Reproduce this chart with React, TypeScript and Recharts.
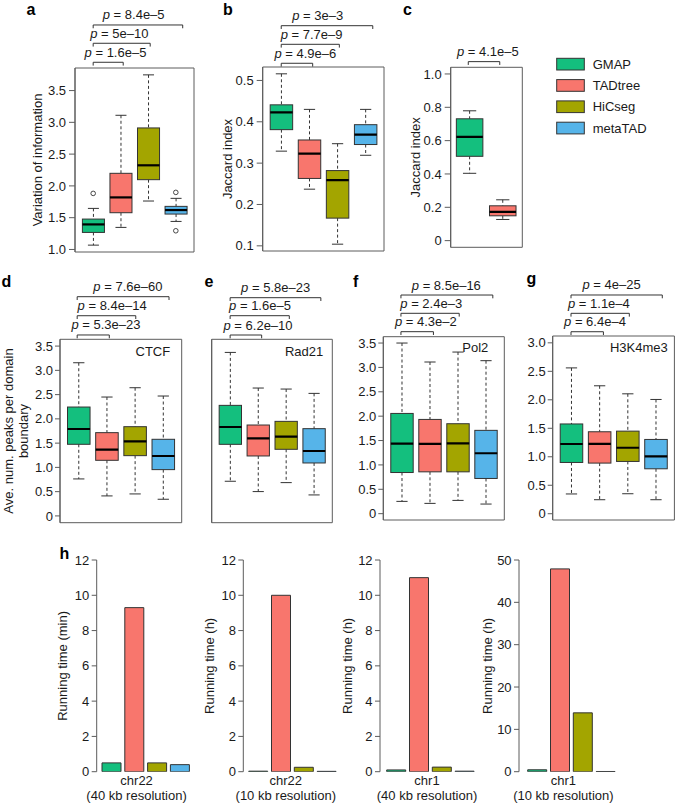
import React from 'react';
import {
  ComposedChart,
  BarChart,
  Bar,
  XAxis,
  YAxis,
  ReferenceArea,
  ReferenceLine,
  ReferenceDot,
  Cell,
} from 'recharts';

// ---------------- data ----------------
const methods = ['GMAP', 'TADtree', 'HiCseg', 'metaTAD'];
const methodColors = ['#14BF7E', '#F8766D', '#A3A500', '#56B4E9'];

// box stats: [lower whisker, Q1, median, Q3, upper whisker]
const viStats = [
  [1.068, 1.268, 1.394, 1.478, 1.646],
  [1.347, 1.578, 1.819, 2.198, 3.111],
  [1.762, 2.098, 2.324, 2.912, 3.747],
  [1.441, 1.557, 1.62, 1.678, 1.804],
];
const viOutliers = [[1.882], [], [], [1.898, 1.294]];

const jaccardStats = [
  [0.329, 0.381, 0.423, 0.441, 0.516],
  [0.237, 0.263, 0.323, 0.356, 0.43],
  [0.104, 0.167, 0.259, 0.282, 0.347],
  [0.319, 0.345, 0.369, 0.393, 0.43],
];
const jaccardPairStats = [
  [0.404, 0.506, 0.622, 0.731, 0.779],
  [0.127, 0.149, 0.173, 0.209, 0.245],
];
const ctcfStats = [
  [0.762, 1.476, 1.791, 2.244, 3.157],
  [0.412, 1.146, 1.366, 1.716, 2.45],
  [0.453, 1.242, 1.537, 1.839, 2.642],
  [0.343, 0.954, 1.235, 1.579, 2.471],
];
const rad21Stats = [
  [0.816, 1.686, 2.094, 2.604, 3.851],
  [0.573, 1.412, 1.827, 2.141, 3.012],
  [0.784, 1.569, 1.867, 2.227, 2.988],
  [0.494, 1.247, 1.529, 2.055, 2.886],
];
const pol2Stats = [
  [0.252, 0.844, 1.436, 2.056, 3.5],
  [0.211, 0.858, 1.43, 1.933, 3.111],
  [0.272, 0.858, 1.443, 1.845, 3.315],
  [0.197, 0.722, 1.239, 1.709, 3.138],
];
const h3k4me3Stats = [
  [0.347, 0.9, 1.224, 1.576, 2.56],
  [0.246, 0.889, 1.228, 1.439, 2.246],
  [0.351, 0.918, 1.158, 1.45, 2.105],
  [0.246, 0.789, 1.006, 1.304, 2.006],
];

// p-value brackets (x in group units, y in data units)
const viBrackets = [
  { from: 1, to: 2.09, y: 3.945, labelX: 1.81, p: '1.6e\u20135' },
  { from: 1, to: 3.07, y: 4.244, labelX: 1.95, p: '5e\u201310' },
  { from: 1, to: 4.25, y: 4.532, labelX: 2.47, p: '8.4e\u20135' },
];
const jaccardBrackets = [
  { from: 1, to: 2.12, y: 0.5415, labelX: 1.86, p: '4.9e\u20136' },
  { from: 1, to: 3.07, y: 0.5874, labelX: 2.08, p: '7.7e\u20139' },
  { from: 1, to: 4.26, y: 0.6324, labelX: 2.3, p: '3e\u20133' },
];
const jaccardPairBrackets = [{ from: 0.95, to: 1.9, y: 1.074, labelX: 1.54, p: '4.1e\u20135' }];
const ctcfBrackets = [
  { from: 0.95, to: 2.09, y: 3.729, labelX: 1.97, p: '5.3e\u201323' },
  { from: 0.95, to: 3.03, y: 4.126, labelX: 2.19, p: '8.4e\u201314' },
  { from: 0.95, to: 4.21, y: 4.518, labelX: 2.75, p: '7.6e\u201360' },
];
const rad21Brackets = [
  { from: 1, to: 2.13, y: 4.261, labelX: 2.0, p: '6.2e\u201310' },
  { from: 1, to: 3.12, y: 4.716, labelX: 2.07, p: '1.6e\u20135' },
  { from: 1, to: 4.25, y: 5.14, labelX: 2.63, p: '5.8e\u201323' },
];
const pol2Brackets = [
  { from: 0.97, to: 2.13, y: 3.733, labelX: 1.86, p: '4.3e\u20132' },
  { from: 0.97, to: 3.05, y: 4.11, labelX: 2.05, p: '2.4e\u20133' },
  { from: 0.97, to: 4.25, y: 4.485, labelX: 2.59, p: '8.5e\u201316' },
];
const h3k4me3Brackets = [
  { from: 0.99, to: 2.14, y: 3.195, labelX: 1.84, p: '6.4e\u20134' },
  { from: 0.99, to: 3.06, y: 3.518, labelX: 1.98, p: '1.1e\u20134' },
  { from: 0.99, to: 4.23, y: 3.84, labelX: 2.43, p: '4e\u201325' },
];

// tick values
const viTicks = [1.0, 1.5, 2.0, 2.5, 3.0, 3.5];
const jaccardTicks = [0.1, 0.2, 0.3, 0.4, 0.5];
const jaccardPairTicks = [0, 0.2, 0.4, 0.6, 0.8, 1.0];
const peakTicks = [0, 0.5, 1.0, 1.5, 2.0, 2.5, 3.0, 3.5];
const rad21Ticks = [0, 1, 2, 3, 4];
const h3k4me3Ticks = [0, 0.5, 1.0, 1.5, 2.0, 2.5, 3.0];
const hourTicks = [0, 2, 4, 6, 8, 10, 12];
const longHourTicks = [0, 10, 20, 30, 40, 50];

// running times
const runChr22At40kb = [0.5, 9.3, 0.5, 0.4];
const runChr22At10kb = [0.03, 10.0, 0.25, 0.02];
const runChr1At40kb = [0.1, 11.0, 0.26, 0.03];
const runChr1At10kb = [0.45, 47.9, 13.9, 0.05];

// ---------------- styles ----------------
const FONT = '"Liberation Sans", Arial, Helvetica, sans-serif';
const AXIS = '#5c5c5c';
const INK = '#1a1a1a';
const OUTLINE = '#333333';

const fmt1 = (v: number) => (v === 0 ? '0' : v.toFixed(1));

type Geo = { left: number; top: number; width: number; height: number; pl: number; pt: number; pr: number; pb: number };
type Bracket = { from: number; to: number; y: number; labelX: number; p: string };

function BoxShape(props: any) {
  const { x, y, width, height, payload } = props;
  if (!payload || x == null || y == null) return null;
  const top = Math.min(y, y + height);
  const bot = Math.max(y, y + height);
  const { lo, q1, med, q3, hi, color } = payload;
  const span = hi - lo || 1;
  const py = (v: number) => bot - ((v - lo) / span) * (bot - top);
  const cx = x + width / 2;
  const cap = width / 4;
  return (
    <g>
      <line x1={cx} x2={cx} y1={top} y2={py(q3)} stroke={OUTLINE} strokeDasharray="3 2.5" />
      <line x1={cx} x2={cx} y1={py(q1)} y2={bot} stroke={OUTLINE} strokeDasharray="3 2.5" />
      <line x1={cx - cap} x2={cx + cap} y1={top} y2={top} stroke={OUTLINE} />
      <line x1={cx - cap} x2={cx + cap} y1={bot} y2={bot} stroke={OUTLINE} />
      <rect x={x} y={py(q3)} width={width} height={py(q1) - py(q3)} fill={color} stroke={OUTLINE} strokeWidth={1} />
      <line x1={x} x2={x + width} y1={py(med)} y2={py(med)} stroke="#000" strokeWidth={2.2} />
    </g>
  );
}

function BracketShape(props: any) {
  const { x1, y1, x2, b } = props;
  if (x1 == null || y1 == null) return null;
  const lx = x1 + ((b.labelX - b.from) / (b.to - b.from)) * (x2 - x1);
  return (
    <g>
      <path d={`M${x1},${y1 + 3.3}V${y1}H${x2}V${y1 + 3.3}`} fill="none" stroke={OUTLINE} strokeWidth={1} />
      <text x={lx} y={y1 - 5.5} textAnchor="middle" fontSize={13} fill={INK}>
        <tspan fontStyle="italic">p</tspan> = {b.p}
      </text>
    </g>
  );
}

function AxisTitle({ lines, x, y }: { lines: string[]; x: number; y: number }) {
  return (
    <g>
      {lines.map((t, i) => {
        const xx = x + i * 15;
        return (
          <text key={i} x={xx} y={y} transform={`rotate(-90 ${xx} ${y})`} textAnchor="middle" fontSize={13} fill={INK}>
            {t}
          </text>
        );
      })}
    </g>
  );
}

type BoxPanelProps = {
  stats: number[][];
  outliers?: number[][];
  domain: [number, number];
  ticks: number[];
  showTickLabels?: boolean;
  brackets: Bracket[];
  title?: string[];
  titleX?: number;
  geo: Geo;
  inset?: { text: string; right: number; base: number };
  tickSize: number;
  tickMargin: number;
};

function BoxPanel({ stats, outliers = [], domain, ticks, showTickLabels = true, brackets, title, titleX = 0, geo, inset, tickSize, tickMargin }: BoxPanelProps) {
  const n = stats.length;
  const xDomain: [number, number] = [0.5 - 0.04 * n, n + 0.5 + 0.04 * n];
  const plotW = geo.pr - geo.pl;
  const plotH = geo.pb - geo.pt;
  const barSize = (0.8 * plotW) / (n * 1.08);
  const margin = {
    top: geo.pt - geo.top,
    right: geo.left + geo.width - geo.pr,
    bottom: geo.top + geo.height - geo.pb,
    left: 0,
  };
  const data = stats.map((s, i) => ({
    x: i + 1,
    range: [s[0], s[4]],
    lo: s[0],
    q1: s[1],
    med: s[2],
    q3: s[3],
    hi: s[4],
    color: methodColors[i],
  }));
  const midY = margin.top + plotH / 2;
  return (
    <div style={{ position: 'absolute', left: geo.left, top: geo.top }}>
      <ComposedChart width={geo.width} height={geo.height} data={data} margin={margin}>
        <XAxis type="number" dataKey="x" domain={xDomain} allowDataOverflow hide />
        <YAxis
          type="number"
          domain={domain}
          allowDataOverflow
          ticks={ticks}
          interval={0}
          width={geo.pl - geo.left}
          tickSize={tickSize}
          tickMargin={tickMargin}
          axisLine={{ stroke: AXIS }}
          tickLine={{ stroke: AXIS }}
          tick={showTickLabels ? { fontSize: 13, fill: INK } : false}
          tickFormatter={fmt1}
          label={title ? () => <AxisTitle lines={title} x={titleX - geo.left} y={midY} /> : undefined}
        />
        <ReferenceArea
          x1={xDomain[0]}
          x2={xDomain[1]}
          y1={domain[0]}
          y2={domain[1]}
          fill="none"
          fillOpacity={0}
          stroke={AXIS}
          strokeWidth={1}
          ifOverflow="visible"
          label={
            inset
              ? () => (
                  <text x={geo.pr - geo.left - inset.right} y={margin.top + inset.base} textAnchor="end" fontSize={13} fill={INK}>
                    {inset.text}
                  </text>
                )
              : undefined
          }
        />
        <Bar dataKey="range" barSize={barSize} isAnimationActive={false} shape={(p: any) => <BoxShape {...p} />} />
        {outliers.map((arr, i) =>
          arr.map((v, k) => (
            <ReferenceDot key={`o${i}-${k}`} x={i + 1} y={v} r={2.3} fill="#fff" stroke={OUTLINE} strokeWidth={0.9} ifOverflow="visible" />
          ))
        )}
        {brackets.map((b, k) => (
          <ReferenceLine
            key={`b${k}`}
            segment={[
              { x: b.from, y: b.y },
              { x: b.to, y: b.y },
            ]}
            ifOverflow="visible"
            stroke={OUTLINE}
            shape={(p: any) => <BracketShape {...p} b={b} />}
          />
        ))}
      </ComposedChart>
    </div>
  );
}

type TimePanelProps = {
  values: number[];
  domain: [number, number];
  ticks: number[];
  title: string;
  titleX: number;
  xLabel: string[];
  labelCx: number;
  geo: Geo;
  pad: number;
};

function TimePanel({ values, domain, ticks, title, titleX, xLabel, labelCx, geo, pad }: TimePanelProps) {
  const data = methods.map((m, i) => ({ name: m, value: values[i] }));
  const margin = { top: geo.pt - geo.top, right: geo.left + geo.width - geo.pr, bottom: 0, left: 0 };
  const xAxisH = geo.top + geo.height - geo.pb;
  const midY = margin.top + (geo.pb - geo.pt) / 2;
  const cx = labelCx - geo.left;
  const base = geo.pb - geo.top;
  return (
    <div style={{ position: 'absolute', left: geo.left, top: geo.top }}>
      <BarChart width={geo.width} height={geo.height} data={data} margin={margin} barSize={19}>
        <XAxis
          dataKey="name"
          type="category"
          height={xAxisH}
          padding={{ left: pad, right: pad }}
          axisLine={false}
          tickLine={false}
          tick={false}
          label={() => (
            <g>
              <text x={cx} y={base + 13.6} textAnchor="middle" fontSize={13} fill={INK}>
                {xLabel[0]}
              </text>
              <text x={cx} y={base + 28.6} textAnchor="middle" fontSize={13} fill={INK}>
                {xLabel[1]}
              </text>
            </g>
          )}
        />
        <YAxis
          type="number"
          domain={domain}
          allowDataOverflow
          ticks={ticks}
          interval={0}
          width={geo.pl - geo.left}
          tickSize={5}
          tickMargin={2.4}
          axisLine={{ stroke: AXIS }}
          tickLine={{ stroke: AXIS }}
          tick={{ fontSize: 13, fill: INK }}
          label={() => <AxisTitle lines={[title]} x={titleX - geo.left} y={midY} />}
        />
        <Bar dataKey="value" isAnimationActive={false} stroke={OUTLINE} strokeWidth={1}>
          {data.map((d, i) => (
            <Cell key={d.name} fill={methodColors[i]} />
          ))}
        </Bar>
      </BarChart>
    </div>
  );
}

const panelLetters = [
  { t: 'a', x: 26.5, y: 15 },
  { t: 'b', x: 223, y: 15 },
  { t: 'c', x: 403, y: 15 },
  { t: 'd', x: 1.5, y: 287 },
  { t: 'e', x: 204.5, y: 287 },
  { t: 'f', x: 353, y: 287 },
  { t: 'g', x: 526.5, y: 284 },
  { t: 'h', x: 59.5, y: 558.5 },
];

const BAND = 22.8;

export default function App() {
  return (
    <div style={{ position: 'absolute', left: 0, top: 0, width: 675, height: 805, background: '#fff', fontFamily: FONT, overflow: 'hidden' }}>
      <BoxPanel
        stats={viStats}
        outliers={viOutliers}
        domain={[0.96, 3.855]}
        ticks={viTicks}
        brackets={viBrackets}
        title={['Variation of information']}
        titleX={42}
        geo={{ left: 0, top: 0, width: 200, height: 262, pl: 75, pt: 68, pr: 194, pb: 252 }}
        tickSize={6}
        tickMargin={3}
      />
      <BoxPanel
        stats={jaccardStats}
        domain={[0.0875, 0.5325]}
        ticks={jaccardTicks}
        brackets={jaccardBrackets}
        title={['Jaccard index']}
        titleX={231.5}
        geo={{ left: 200, top: 0, width: 190, height: 262, pl: 262.7, pt: 67, pr: 384, pb: 251 }}
        tickSize={6}
        tickMargin={3}
      />
      <BoxPanel
        stats={jaccardPairStats}
        domain={[-0.04, 1.04]}
        ticks={jaccardPairTicks}
        brackets={jaccardPairBrackets}
        title={['Jaccard index']}
        titleX={420.5}
        geo={{ left: 390, top: 0, width: 140, height: 262, pl: 450.7, pt: 67.3, pr: 522.3, pb: 247.3 }}
        tickSize={6}
        tickMargin={3}
      />
      <BoxPanel
        stats={ctcfStats}
        domain={[-0.14, 3.64]}
        ticks={peakTicks}
        brackets={ctcfBrackets}
        title={['Ave. num. peaks per domain', 'boundary']}
        titleX={12.5}
        geo={{ left: 0, top: 270, width: 190, height: 262, pl: 60, pt: 339.3, pr: 181.7, pb: 522.7 }}
        inset={{ text: 'CTCF', right: 11.5, base: 16.7 }}
        tickSize={5}
        tickMargin={2}
      />
      <BoxPanel
        stats={rad21Stats}
        domain={[-0.16, 4.16]}
        ticks={rad21Ticks}
        showTickLabels={false}
        brackets={rad21Brackets}
        geo={{ left: 190, top: 270, width: 150, height: 262, pl: 211.7, pt: 339.3, pr: 332.3, pb: 522.7 }}
        inset={{ text: 'Rad21', right: 9, base: 16.7 }}
        tickSize={5}
        tickMargin={2}
      />
      <BoxPanel
        stats={pol2Stats}
        domain={[-0.13, 3.63]}
        ticks={peakTicks}
        brackets={pol2Brackets}
        geo={{ left: 340, top: 270, width: 170, height: 262, pl: 383.3, pt: 336.7, pr: 504.3, pb: 520 }}
        inset={{ text: 'Pol2', right: 16, base: 15 }}
        tickSize={5}
        tickMargin={2}
      />
      <BoxPanel
        stats={h3k4me3Stats}
        domain={[-0.11, 3.12]}
        ticks={h3k4me3Ticks}
        brackets={h3k4me3Brackets}
        geo={{ left: 510, top: 270, width: 165, height: 262, pl: 552.7, pt: 336, pr: 674.4, pb: 520 }}
        inset={{ text: 'H3K4me3', right: 6.7, base: 15.7 }}
        tickSize={5}
        tickMargin={2}
      />
      <TimePanel
        values={runChr22At40kb}
        domain={[0, 12]}
        ticks={hourTicks}
        title="Running time (min)"
        titleX={67.5}
        xLabel={['chr22', '(40 kb resolution)']}
        labelCx={136.6}
        pad={3.3}
        geo={{ left: 0, top: 540, width: 200, height: 265, pl: 96.7, pt: 560, pr: 96.7 + 6.6 + 4 * BAND, pb: 771.7 }}
      />
      <TimePanel
        values={runChr22At10kb}
        domain={[0, 12]}
        ticks={hourTicks}
        title="Running time (h)"
        titleX={214}
        xLabel={['chr22', '(10 kb resolution)']}
        labelCx={285.8}
        pad={3.4}
        geo={{ left: 195, top: 540, width: 150, height: 265, pl: 243.3, pt: 560, pr: 243.3 + 6.8 + 4 * BAND, pb: 771.7 }}
      />
      <TimePanel
        values={runChr1At40kb}
        domain={[0, 12]}
        ticks={hourTicks}
        title="Running time (h)"
        titleX={352.5}
        xLabel={['chr1', '(40 kb resolution)']}
        labelCx={427}
        pad={4.7}
        geo={{ left: 335, top: 540, width: 150, height: 265, pl: 380, pt: 560, pr: 380 + 9.4 + 4 * BAND, pb: 771.7 }}
      />
      <TimePanel
        values={runChr1At10kb}
        domain={[0, 50]}
        ticks={longHourTicks}
        title="Running time (h)"
        titleX={492.5}
        xLabel={['chr1', '(10 kb resolution)']}
        labelCx={563.4}
        pad={6.7}
        geo={{ left: 475, top: 540, width: 200, height: 265, pl: 519, pt: 560, pr: 519 + 13.4 + 4 * BAND, pb: 771.7 }}
      />
      <svg width={675} height={805} style={{ position: 'absolute', left: 0, top: 0, pointerEvents: 'none' }}>
        {panelLetters.map((l) => (
          <text key={l.t} x={l.x} y={l.y} fontSize={16} fontWeight="bold" fill="#000">
            {l.t}
          </text>
        ))}
        {methods.map((m, i) => (
          <g key={m}>
            <rect x={556.7} y={58.3 + i * 21.3} width={27.6} height={11.7} fill={methodColors[i]} stroke={OUTLINE} strokeWidth={1} />
            <text x={592.7} y={68.7 + i * 21.3} fontSize={13} fill={INK}>
              {m}
            </text>
          </g>
        ))}
      </svg>
    </div>
  );
}
